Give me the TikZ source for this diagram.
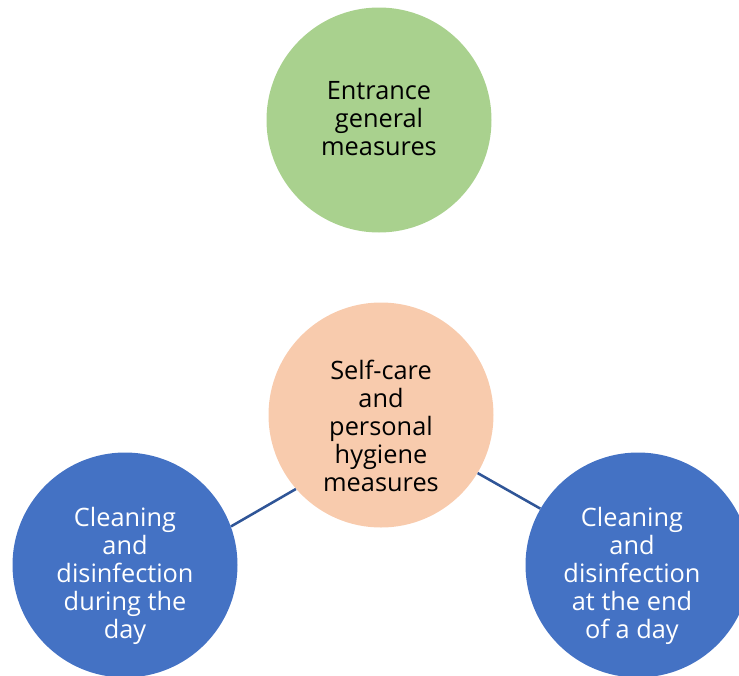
\documentclass[tikz,border=0pt]{standalone}
\usepackage{fontspec}
\setmainfont{Open Sans}
\usetikzlibrary{positioning}

\definecolor{leafgreen}{HTML}{A9D18E}
\definecolor{peach}{HTML}{F8CBAD}
\definecolor{officeblue}{HTML}{4472C4}
\definecolor{linkblue}{HTML}{2F5597}

\begin{document}
\begin{tikzpicture}[x=0.75pt, y=-0.75pt,
  bubble/.style={circle, minimum size=225*0.75pt, inner sep=0pt},
  words/.style={align=center, font=\fontsize{19}{21}\selectfont},
  top/.style={bubble, fill=leafgreen},
  core/.style={bubble, fill=peach},
  task/.style={bubble, fill=officeblue},
  link/.style={draw=linkblue, line width=1.9pt}]
\useasboundingbox (0,0) rectangle (739,675);
\node[top] (entrance) at (379,120)
  [label={[words, yshift=1pt]center:Entrance\\general\\measures}] {};
\node[core] (selfcare) at (381,415)
  [label={[words, yshift=-8pt]center:Self-care\\and\\personal\\hygiene\\measures}] {};
\node[task] (during) at (125,565)
  [label={[words, text=white, yshift=-8pt]center:Cleaning\\and\\disinfection\\during the\\day}] {};
\node[task] (endday) at (638,565)
  [label={[words, text=white, xshift=-4.5pt, yshift=-8pt]center:Cleaning\\and\\disinfection\\at the end\\of a day}] {};
\draw[link] (during.20) -- (selfcare.221);
\draw[link] (selfcare.329) -- (endday.150);
\end{tikzpicture}
\end{document}
